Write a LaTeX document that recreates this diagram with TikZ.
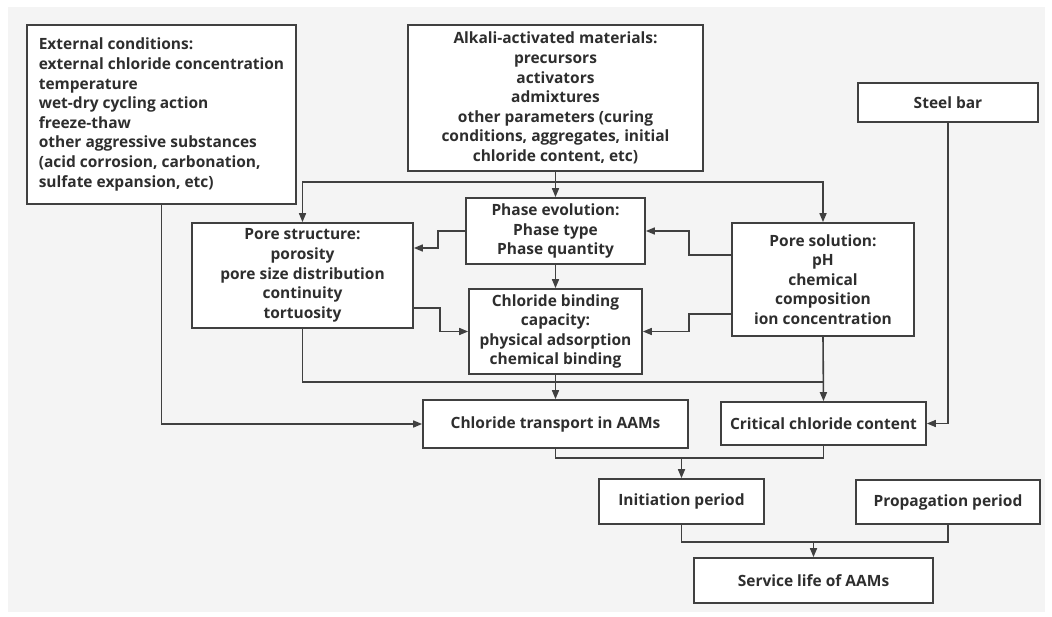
\documentclass[tikz,border=0pt]{standalone}
\usepackage{fontspec}
\setmainfont{Open Sans}
\usetikzlibrary{arrows.meta}
\definecolor{linec}{HTML}{404040}
\definecolor{txt}{HTML}{2E2E2E}
\definecolor{bg}{HTML}{F4F4F4}
\begin{document}
\begin{tikzpicture}[x=1pt,y=-1pt,
  box/.style={draw=linec,line width=1.7pt,fill=white,inner sep=0pt,align=center,text=txt,font=\bfseries\fontsize{15.5}{19.6}\selectfont},
  arr/.style={draw=linec,line width=1.6pt,-{Triangle[length=9pt,width=7pt]}},
  ln/.style={draw=linec,line width=1.6pt}]
\useasboundingbox (0,0) rectangle (1052,617);
\fill[bg] (8,7) rectangle (1045,612);

\node[box,minimum width=269pt,minimum height=179pt,align=left] (ext) at (161.5,114.5)
  {External conditions:\\external chloride concentration\\temperature\\wet-dry cycling action\\freeze-thaw\\other aggressive substances\\(acid corrosion, carbonation,\\sulfate expansion, etc)};
\node[box,minimum width=295pt,minimum height=146pt] (aam) at (555.5,98)
  {Alkali-activated materials:\\precursors\\activators\\admixtures\\other parameters (curing\\conditions, aggregates, initial\\chloride content, etc)};
\node[box,minimum width=180pt,minimum height=39pt] (steel) at (948,102.5) {Steel bar};
\node[box,minimum width=221pt,minimum height=105pt] (pstruct) at (302.5,275.5)
  {Pore structure:\\porosity\\pore size distribution\\continuity\\tortuosity};
\node[box,minimum width=179pt,minimum height=66pt] (phase) at (555.5,231)
  {Phase evolution:\\Phase type\\Phase quantity};
\node[box,minimum width=173pt,minimum height=85pt] (bind) at (555.5,331.5)
  {Chloride binding\\capacity:\\physical adsorption\\chemical binding};
\node[box,minimum width=182pt,minimum height=113pt] (psol) at (823,279.5)
  {Pore solution:\\pH\\chemical\\composition\\ion concentration};
\node[box,minimum width=265pt,minimum height=48pt] (trans) at (555.5,424) {Chloride transport in AAMs};
\node[box,minimum width=205pt,minimum height=43pt] (crit) at (823.5,423.5) {Critical chloride content};
\node[box,minimum width=165pt,minimum height=45pt] (init) at (681.5,501.5) {Initiation period};
\node[box,minimum width=184pt,minimum height=44pt] (prop) at (948,502) {Propagation period};
\node[box,minimum width=239pt,minimum height=45pt] (serv) at (813.5,580.5) {Service life of AAMs};

\coordinate (j1) at (555.5,182);
\draw[arr] (aam.south) -- (phase.north);
\draw[arr] (j1) -| (pstruct.north);
\draw[arr] (j1) -| (psol.north);
\draw[arr] (phase.west) -- ++(-27,0) |- (pstruct.east |- 0,248);
\draw[arr] (pstruct.east |- 0,308) -| ([xshift=-28pt]bind.west) -- (bind.west);
\draw[arr] (psol.west |- 0,255) -| ([xshift=43pt]phase.east) -- (phase.east);
\draw[arr] (psol.west |- 0,314) -| ([xshift=46pt]bind.east) -- (bind.east);
\draw[arr] (phase.south) -- (bind.north);
\draw[arr] (bind.south) -- (trans.north);
\draw[ln] (pstruct.south) |- (psol.south |- 0,382);
\draw[arr] (psol.south) -- (crit.north);
\draw[arr] (ext.south) |- (trans.west);
\draw[arr] (steel.south) |- (crit.east);
\draw[ln] (trans.south) |- (crit.south |- 0,458) -- (crit.south);
\draw[arr] (init.north |- 0,458) -- (init.north);
\draw[ln] (init.south) |- (prop.south |- 0,542) -- (prop.south);
\draw[arr] (serv.north |- 0,542) -- (serv.north);
\end{tikzpicture}
\end{document}
